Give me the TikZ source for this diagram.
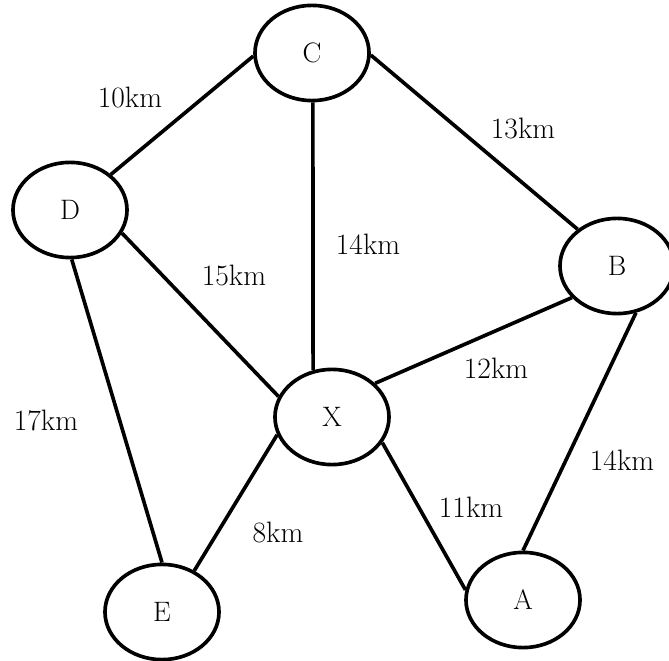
\documentclass[tikz,border=0pt]{standalone}
\usepackage{tikz}
\usetikzlibrary{shapes.geometric}
\tikzset{
  town/.style   = { ellipse, draw=black, line width=2.6pt, inner sep=0pt,
                    minimum width=2.85cm, minimum height=2.38cm,
                    font=\fontsize{20}{24}\selectfont },
  road/.style   = { line width=2.6pt, black },
  dist/.style   = { font=\fontsize{21}{25}\selectfont, inner sep=1pt }
}

\begin{document}
\begin{tikzpicture}[x=0.025cm,y=-0.025cm]
  \useasboundingbox (0,0) rectangle (669,661);

  % towns
  \node (C) [town] at (312,53)  {C};
  \node (D) [town] at (70,210)  {D};
  \node (B) [town] at (617,266) {B};
  \node (X) [town] at (332,417) {X};
  \node (E) [town] at (162,612) {E};
  \node (A) [town] at (523,600) {A};

  % roads
  \draw [road] (C.183) -- (D.41);
  \draw [road] (C.271) -- (X.112);
  \draw [road] (C.358) -- (B.137);
  \draw [road] (D.336) -- (X.159);
  \draw [road] (D.272) -- (E.90);
  \draw [road] (B.215) -- (X.38);
  \draw [road] (B.292) -- (A.90);
  \draw [road] (X.198) -- (E.52);
  \draw [road] (X.333) -- (A.170);

  % distances
  \node (dCD) [dist] at (130,97)  {10km};
  \node (dCB) [dist] at (523,128) {13km};
  \node (dCX) [dist] at (368,244) {14km};
  \node (dDX) [dist] at (234,275) {15km};
  \node (dBX) [dist] at (496,368) {12km};
  \node (dDE) [dist] at (46,420)  {17km};
  \node (dBA) [dist] at (622,460) {14km};
  \node (dXA) [dist] at (471,507) {11km};
  \node (dXE) [dist] at (278,532) {8km};

\end{tikzpicture}
\end{document}
